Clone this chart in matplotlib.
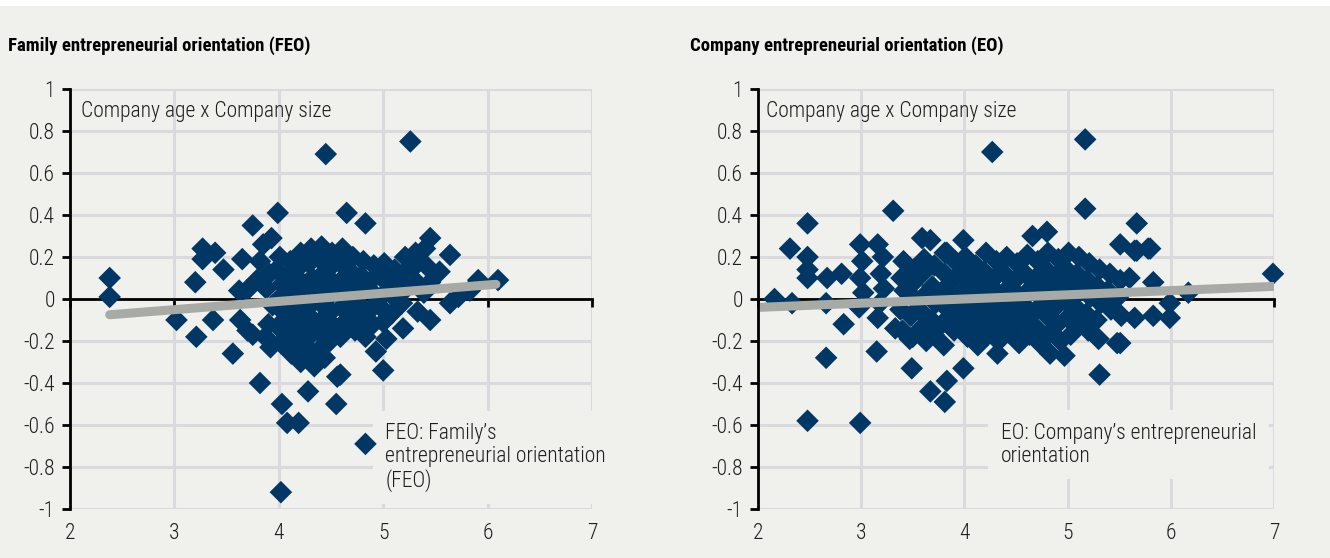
import numpy as np
import matplotlib
matplotlib.use("Agg")
import matplotlib.pyplot as plt
from matplotlib.patches import Rectangle
from matplotlib.ticker import FuncFormatter

plt.rcParams['font.family'] = ['Roboto Condensed', 'DejaVu Sans']
plt.rcParams['axes.unicode_minus'] = False

#-- Data
# Family entrepreneurial orientation (FEO): x = FEO, y = age x size effect
feo_x = [2.38, 2.38,
         3.02, 3.20, 3.21, 3.27, 3.39, 3.27, 3.47, 3.37, 3.56,
         3.62, 3.65, 3.63, 3.70, 3.75, 3.75, 3.79, 3.82, 3.82, 3.85, 3.92, 3.93, 3.99, 3.69,
         4.03, 4.08, 4.19, 4.02, 4.45, 5.26, 4.28, 4.55, 4.56, 5.00, 4.93, 4.65, 4.83,
         5.45, 5.64, 5.40, 5.29, 5.54, 5.45, 5.64, 5.45, 5.19, 5.91, 6.10, 5.83, 5.72,
         4.59, 4.83,
         3.91, 3.88, 3.94, 3.90, 3.87,
         4.01, 3.98, 4.03, 4.00, 4.04, 3.99, 4.02,
         4.11, 4.09, 4.12, 4.08, 4.13, 4.10, 4.12,
         4.21, 4.19, 4.22, 4.18, 4.20, 4.23, 4.19, 4.21,
         4.31, 4.29, 4.32, 4.28, 4.30, 4.33, 4.29, 4.31, 4.34,
         4.41, 4.39, 4.42, 4.38, 4.40, 4.43, 4.39, 4.41, 4.44,
         4.51, 4.49, 4.52, 4.48, 4.50, 4.53, 4.49,
         4.61, 4.59, 4.62, 4.58, 4.60, 4.63, 4.59,
         4.71, 4.69, 4.72, 4.68, 4.70, 4.73,
         4.81, 4.79, 4.82, 4.78, 4.80, 4.83,
         4.91, 4.89, 4.92, 4.88, 4.90,
         5.01, 4.99, 5.02, 4.98, 5.00, 5.03,
         5.11, 5.09, 5.12, 5.08,
         5.21, 5.19, 5.22, 5.18,
         5.31, 5.29, 5.32, 5.33,
         5.41, 5.39]
feo_y = [0.10, 0.01,
         -0.10, 0.08, -0.18, 0.24, 0.22, 0.19, 0.14, -0.10, -0.26,
         0.04, 0.19, -0.10, -0.15, -0.17, 0.35, 0.09, 0.18, -0.40, 0.26, -0.23, 0.29, 0.41, 0.04,
         -0.50, -0.59, -0.59, -0.92, 0.69, 0.75, -0.44, -0.50, -0.37, -0.34, -0.25, 0.41, 0.36,
         0.29, 0.21, 0.24, 0.19, 0.13, 0.08, -0.02, -0.10, -0.14, 0.09, 0.09, 0.04, 0.01,
         -0.36, -0.69,
         0.12, 0.05, -0.03, -0.12, -0.18,
         0.20, 0.14, 0.07, 0.00, -0.06, -0.13, -0.21,
         0.18, 0.10, 0.03, -0.04, -0.11, -0.17, -0.26,
         0.22, 0.15, 0.08, 0.01, -0.08, -0.15, -0.22, -0.30,
         0.24, 0.17, 0.10, 0.04, -0.03, -0.10, -0.18, -0.25, -0.32,
         0.25, 0.19, 0.12, 0.05, -0.02, -0.09, -0.16, -0.23, -0.28,
         0.22, 0.15, 0.08, 0.01, -0.06, -0.13, -0.20,
         0.24, 0.17, 0.10, 0.03, -0.04, -0.11, -0.18,
         0.20, 0.13, 0.06, -0.01, -0.08, -0.15,
         0.18, 0.11, 0.04, -0.03, -0.10, -0.18,
         0.16, 0.09, 0.02, -0.05, -0.12,
         0.17, 0.10, 0.03, -0.04, -0.11, -0.19,
         0.14, 0.07, 0.00, -0.07,
         0.20, 0.12, 0.05, -0.02,
         0.22, 0.15, 0.08, -0.06,
         0.16, 0.03]

# Company entrepreneurial orientation (EO)
eo_x = [2.16, 2.33, 2.31, 2.48, 2.48, 2.48, 2.48, 2.67, 2.66, 2.81, 2.83, 2.66, 2.48, 2.99,
        3.31, 2.99, 3.16, 3.16, 3.33, 3.15, 3.49, 3.67, 3.83, 3.81, 3.47, 3.59, 3.67, 3.81,
        4.27, 5.17, 5.17, 5.67, 3.99, 3.83, 4.80, 4.66, 5.51, 5.78, 5.67, 5.31, 4.97, 4.83,
        5.48, 4.32, 3.99, 5.80, 5.65, 5.60, 5.83, 6.17, 5.99, 5.65, 5.83, 5.99, 5.51, 6.99,
        3.01, 2.99, 3.02, 2.98,
        3.21, 3.19, 3.22, 3.18,
        3.41, 3.39, 3.42, 3.38, 3.40,
        3.51, 3.49, 3.52, 3.48, 3.50,
        3.61, 3.59, 3.62, 3.58, 3.60, 3.63,
        3.71, 3.69, 3.72, 3.68, 3.70,
        3.81, 3.79, 3.82, 3.78, 3.80,
        3.91, 3.89, 3.92, 3.88, 3.90,
        4.01, 3.99, 4.02, 3.98, 4.00, 4.03,
        4.11, 4.09, 4.12, 4.08, 4.10, 4.13,
        4.21, 4.19, 4.22, 4.18, 4.20, 4.23,
        4.31, 4.29, 4.32, 4.28, 4.30, 4.33,
        4.41, 4.39, 4.42, 4.38, 4.40, 4.43,
        4.51, 4.49, 4.52, 4.48, 4.50, 4.53,
        4.61, 4.59, 4.62, 4.58, 4.60, 4.63,
        4.71, 4.69, 4.72, 4.68, 4.70, 4.73,
        4.81, 4.79, 4.82, 4.78, 4.80, 4.83,
        4.91, 4.89, 4.92, 4.88, 4.90, 4.93,
        5.01, 4.99, 5.02, 4.98, 5.00, 5.03,
        5.11, 5.09, 5.12, 5.08, 5.10,
        5.21, 5.19, 5.22, 5.18, 5.20,
        5.31, 5.29, 5.32, 5.28, 5.30,
        5.41, 5.39, 5.42,
        5.51, 5.49, 5.52]
eo_y = [0.00, -0.02, 0.24, 0.36, 0.20, 0.14, 0.10, 0.10, -0.02, 0.12, -0.12, -0.28, -0.58, -0.59,
        0.42, 0.26, 0.26, -0.09, -0.14, -0.25, -0.33, -0.44, -0.39, -0.49, -0.19, 0.29, 0.28, 0.22,
        0.70, 0.76, 0.43, 0.36, 0.28, 0.22, 0.32, 0.30, 0.26, 0.24, 0.23, -0.36, -0.27, -0.26,
        -0.21, -0.26, -0.33, 0.24, 0.23, 0.10, 0.08, 0.03, -0.02, -0.09, -0.08, -0.09, -0.21, 0.12,
        0.18, 0.10, 0.03, -0.04,
        0.20, 0.12, 0.05, -0.02,
        0.18, 0.10, 0.04, -0.05, -0.15,
        0.14, 0.07, 0.00, -0.08, -0.18,
        0.19, 0.12, 0.02, -0.06, -0.13, -0.20,
        0.16, 0.06, -0.02, -0.10, -0.17,
        0.12, 0.04, -0.04, -0.12, -0.22,
        0.18, 0.09, 0.00, -0.08, -0.15,
        0.20, 0.12, 0.05, -0.03, -0.10, -0.18,
        0.16, 0.08, 0.01, -0.06, -0.14, -0.22,
        0.22, 0.13, 0.05, -0.02, -0.10, -0.17,
        0.18, 0.10, 0.03, -0.05, -0.13, -0.20,
        0.20, 0.12, 0.05, -0.02, -0.09, -0.16,
        0.17, 0.09, 0.02, -0.06, -0.13, -0.21,
        0.21, 0.12, 0.04, -0.03, -0.10, -0.17,
        0.18, 0.10, 0.02, -0.06, -0.14, -0.21,
        0.22, 0.14, 0.06, -0.01, -0.08, -0.16,
        0.19, 0.11, 0.04, -0.04, -0.12, -0.20,
        0.22, 0.14, 0.07, -0.01, -0.09, -0.17,
        0.20, 0.12, 0.04, -0.04, -0.12,
        0.17, 0.09, 0.01, -0.07, -0.15,
        0.14, 0.06, -0.02, -0.10, -0.19,
        0.12, 0.04, -0.05,
        0.09, 0.01, -0.08]

# linear trend lines (end points)
feo_trend_x = [2.38, 6.08]
feo_trend_y = [-0.075, 0.07]
eo_trend_x = [2.0, 7.0]
eo_trend_y = [-0.04, 0.06]

titles = ["Family entrepreneurial orientation (FEO)",
          "Company entrepreneurial orientation (EO)"]
inner_label = "Company age x Company size"
notes = ["FEO: Family\u2019s\nentrepreneurial orientation\n(FEO)",
         "EO: Company\u2019s entrepreneurial\norientation"]
x_ticks = [2, 3, 4, 5, 6, 7]
y_ticks = [-1, -0.8, -0.6, -0.4, -0.2, 0, 0.2, 0.4, 0.6, 0.8, 1]

#-- Styles
bg = '#f0f0ec'
grid_c = '#dadade'
dot_c = '#003764'
trend_c = '#a8aaa5'
txt_c = '#1e1e1e'
fs = 15.5

fig = plt.figure(figsize=(13.3, 5.58), dpi=100, facecolor='white')
fig.add_artist(Rectangle((0, 0), 1, 1 - 6/558, transform=fig.transFigure,
                         facecolor=bg, edgecolor='none', zorder=-10))

panels = [
    dict(rect=[70/1330, 49/558, 522/1330, 420/558], x=feo_x, y=feo_y,
         tx=feo_trend_x, ty=feo_trend_y, title_x=8/1330, note_xy=(5.02, -0.59),
         label_x=0.022),
    dict(rect=[758/1330, 49/558, 516/1330, 420/558], x=eo_x, y=eo_y,
         tx=eo_trend_x, ty=eo_trend_y, title_x=690/1330, note_xy=(4.35, -0.59),
         label_x=0.015),
]

for i, p in enumerate(panels):
    ax = fig.add_axes(p['rect'])
    ax.set_facecolor('none')
    ax.set_xlim(2, 7)
    ax.set_ylim(-1, 1)
    ax.set_axisbelow(True)
    ax.grid(True, color=grid_c, lw=2.2)

    ax.scatter(p['x'], p['y'], marker='D', s=11.5**2, color=dot_c,
               edgecolors='none', zorder=3, clip_on=False)
    ax.plot(p['tx'], p['ty'], color=trend_c, lw=6.5, solid_capstyle='round',
            zorder=4)

    # spines: left axis, x axis through zero
    for s in ['top', 'right']:
        ax.spines[s].set_visible(False)
    ax.spines['left'].set_linewidth(2)
    ax.spines['left'].set_zorder(5)
    ax.spines['bottom'].set_position(('data', 0))
    ax.spines['bottom'].set_linewidth(2)
    ax.spines['bottom'].set_zorder(2)

    ax.set_yticks(y_ticks)
    ax.yaxis.set_major_formatter(FuncFormatter(lambda v, pos: '%g' % v))
    ax.tick_params(axis='y', direction='out', length=6, width=2, pad=5,
                   labelsize=fs, labelcolor=txt_c)
    for lab in ax.get_yticklabels():
        lab.set_fontweight(300)
    ax.set_xticks(x_ticks)
    ax.tick_params(axis='x', direction='out', length=6, width=2,
                   labelbottom=False)

    sec = ax.secondary_xaxis(0)
    sec.set_xticks(x_ticks)
    sec.tick_params(length=0, pad=10, labelsize=fs, labelcolor=txt_c)
    sec.spines['bottom'].set_visible(False)
    for lab in sec.get_xticklabels():
        lab.set_fontweight(300)

    ax.text(p['label_x'], 0.947, inner_label, transform=ax.transAxes,
            ha='left', va='center', fontsize=fs, fontweight=300, color=txt_c)
    ax.text(p['note_xy'][0], p['note_xy'][1], notes[i], ha='left', va='top',
            fontsize=fs, fontweight=300, color=txt_c, linespacing=1.12, zorder=2,
            bbox=dict(facecolor=bg, edgecolor='none', pad=9))

    fig.text(p['title_x'], 1 - 46/558, titles[i], ha='left', va='center',
             fontsize=13.5, fontweight='bold', color='black')

fig.savefig('out.png', dpi=100, facecolor=fig.get_facecolor())
